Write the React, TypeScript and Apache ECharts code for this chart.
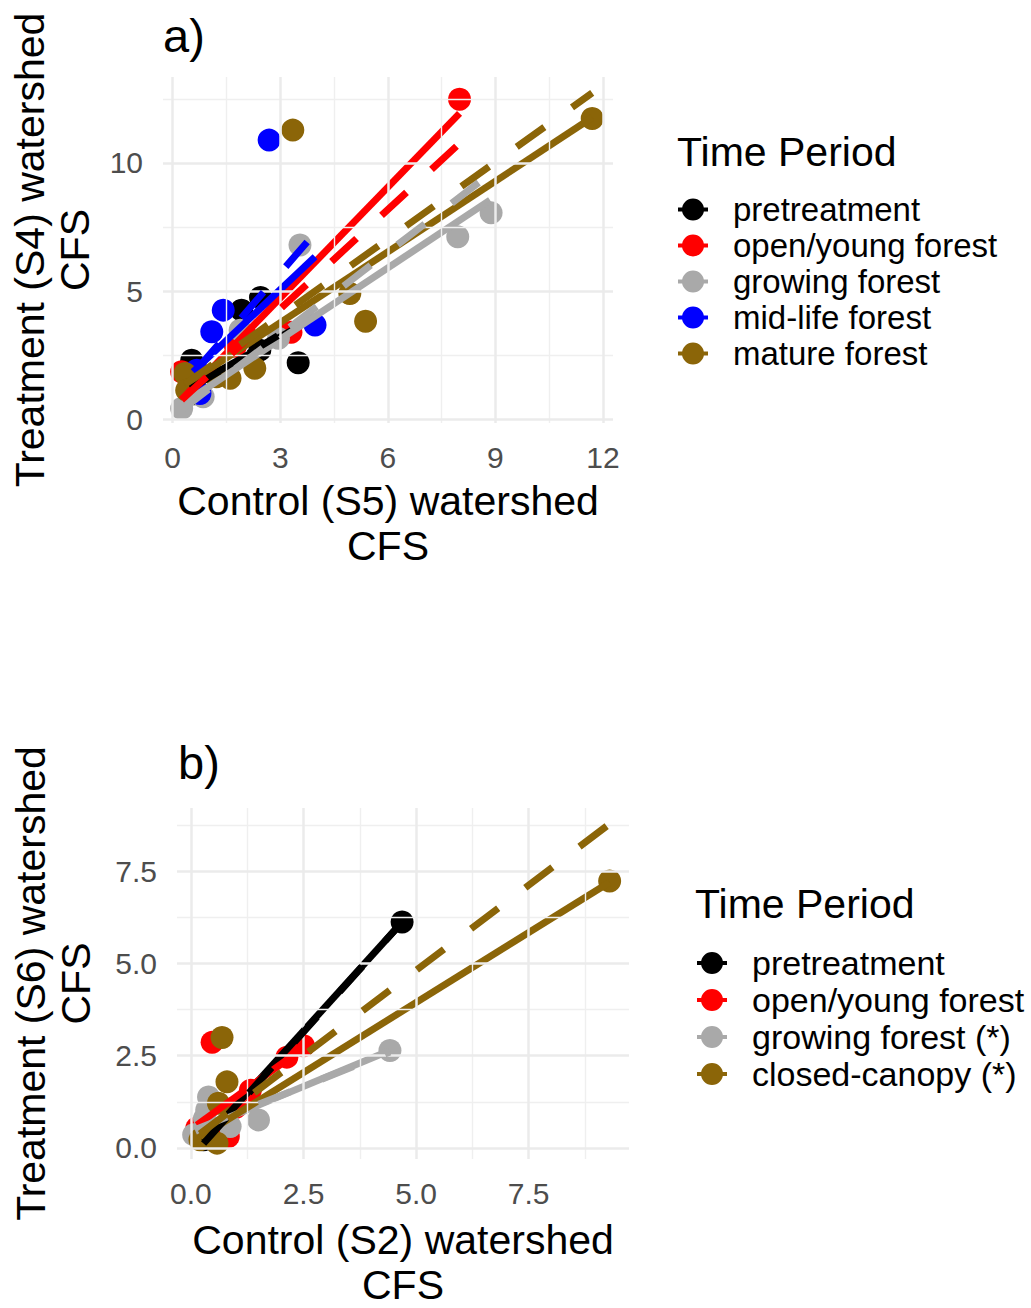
import React, { useEffect, useRef } from "react";
import * as echarts from "echarts";

const FONT = "'Liberation Sans', Arial, sans-serif";

// ---------- Panel a ----------
const groupsA = ["pretreatment", "open/young forest", "growing forest", "mid-life forest", "mature forest"];
const colorsA = ["#000000", "#FF0000", "#A9A9A9", "#0000FF", "#8B6508"];

const ptsA_pre = [[0.53, 2.31], [1.92, 4.26], [2.45, 4.75], [2.43, 2.7], [3.5, 2.21], [0.6, 1.0]];
const ptsA_open = [[0.25, 1.86], [1.75, 2.85], [3.3, 3.4], [8.0, 12.48], [0.6, 1.2]];
const ptsA_grow = [[0.25, 0.43], [0.85, 0.88], [1.88, 3.48], [2.95, 3.16], [3.55, 6.8], [7.95, 7.12], [8.88, 8.06]];
const ptsA_mid = [[0.76, 1.01], [0.67, 1.92], [1.09, 3.42], [1.41, 4.26], [2.69, 10.89], [3.97, 3.68]];
const ptsA_mat = [[0.34, 1.79], [0.39, 1.14], [1.22, 1.66], [1.6, 1.6], [2.29, 1.99], [3.35, 11.28], [4.94, 4.91], [5.38, 3.83], [11.7, 11.73]];

const solidA_pre = [[0.5, 1.27], [3.5, 3.61]];
const solidA_open = [[0.25, 0.78], [8.0, 11.93]];
const solidA_grow = [[0.3, 0.62], [8.85, 8.55]];
const solidA_mid = [[0.57, 1.86], [3.97, 6.34]];
const solidA_mat = [[0.34, 1.33], [11.7, 11.77]];

const dashA_pre = [[0.5, 1.2], [3.5, 3.75]];
const dashA_open = [[0.25, 0.76], [8.0, 10.76]];
const dashA_grow = [[0.25, 0.37], [8.85, 9.57]];
const dashA_mid = [[0.67, 1.95], [3.75, 6.92]];
const dashA_mat = [[0.34, 1.37], [11.7, 12.73]];

const xTicksA = [0, 3, 6, 9, 12];
const xMinorA = [1.5, 4.5, 7.5, 10.5];
const yTicksA = [0, 5, 10];
const yMinorA = [2.5, 7.5, 12.5];

// ---------- Panel b ----------
const groupsB = ["pretreatment", "open/young forest", "growing forest (*)", "closed-canopy (*)"];
const colorsB = ["#000000", "#FF0000", "#A9A9A9", "#8B6508"];

const ptsB_pre = [[0.28, 0.22], [4.69, 6.12]];
const ptsB_open = [[0.13, 0.54], [0.83, 0.31], [1.0, 1.1], [1.32, 1.56], [2.13, 2.46], [2.5, 2.77], [0.47, 2.86]];
const ptsB_grow = [[0.06, 0.36], [0.3, 0.8], [0.35, 1.03], [0.39, 1.38], [0.87, 0.58], [1.5, 0.76], [4.42, 2.64]];
const ptsB_clo = [[0.2, 0.22], [0.4, 0.3], [0.58, 0.13], [0.61, 1.21], [0.8, 1.79], [0.69, 2.99], [9.3, 7.23]];

const solidB_pre = [[0.28, 0.18], [4.69, 6.12]];
const solidB_open = [[0.13, 0.62], [2.6, 2.8]];
const solidB_grow = [[0.1, 0.45], [4.42, 2.64]];
const solidB_clo = [[0.2, 0.3], [9.3, 7.2]];

const dashB_pre = [[0.28, 0.12], [4.69, 6.12]];
const dashB_grow = [[0.1, 0.5], [4.42, 2.6]];
const dashB_clo = [[0.2, 0.38], [9.3, 8.78]];

const xTicksB = [0, 2.5, 5, 7.5];
const xMinorB = [1.25, 3.75, 6.25, 8.75];
const yTicksB = [0, 2.5, 5, 7.5];
const yMinorB = [1.25, 3.75, 6.25, 8.75];

const KEY = "path://M0,9H30V13H0Z M4,11A11,11,0,1,1,26,11A11,11,0,1,1,4,11Z";

function scatter(name: string, color: string, data: number[][], idx: number) {
  return {
    type: "scatter", name, xAxisIndex: idx, yAxisIndex: idx, data,
    symbol: "circle", symbolSize: 23, itemStyle: { color, opacity: 1 }, z: 3, silent: true,
  };
}
function line(name: string, color: string, data: number[][], idx: number, dashed: boolean) {
  return {
    type: "line", name, xAxisIndex: idx, yAxisIndex: idx, data,
    showSymbol: false, symbol: "none", silent: true, z: dashed ? 5 : 4,
    lineStyle: { color, width: 7, type: dashed ? [34, 34] : "solid", cap: "butt" },
  };
}
function gridLines(idx: number, xt: number[], xm: number[], yt: number[], ym: number[]) {
  const major = { width: 2.5, color: "#EBEBEB" };
  const minor = { width: 1.4, color: "#EFEFEF" };
  return {
    type: "scatter", xAxisIndex: idx, yAxisIndex: idx, data: [], z: 1, silent: true,
    markLine: {
      silent: true, symbol: ["none", "none"], label: { show: false }, animation: false,
      lineStyle: { type: "solid" },
      data: [
        ...xm.map((v) => ({ xAxis: v, lineStyle: minor })),
        ...ym.map((v) => ({ yAxis: v, lineStyle: minor })),
        ...xt.map((v) => ({ xAxis: v, lineStyle: major })),
        ...yt.map((v) => ({ yAxis: v, lineStyle: major })),
      ],
    },
  };
}
function axis(idx: number, min: number, max: number, ticks: number[], fmt: (v: number) => string, name: string, gap: number, isY: boolean) {
  return {
    type: "value", gridIndex: idx, min, max,
    axisLine: { show: false }, axisTick: { show: false }, splitLine: { show: false },
    axisLabel: {
      customValues: ticks, formatter: (v: number) => fmt(v), fontSize: 30, color: "#4D4D4D",
      fontFamily: FONT, margin: isY ? 20 : 19, lineHeight: 30,
    },
    name, nameLocation: "middle", nameGap: gap, nameRotate: isY ? 90 : 0,
    nameTextStyle: { fontSize: 41, color: "#000", fontFamily: FONT, lineHeight: 45 },
  };
}

export default function App() {
  const ref = useRef<HTMLDivElement>(null);
  useEffect(() => {
    if (!ref.current) return;
    const chart = echarts.init(ref.current, undefined, { renderer: "svg" });
    const fInt = (v: number) => String(Math.round(v));
    const f1 = (v: number) => v.toFixed(1);
    const legendTextA = { fontSize: 33, color: "#000", fontFamily: FONT, padding: [0, 0, 0, 20] };
    const legendTextB = { fontSize: 34, color: "#000", fontFamily: FONT, padding: [0, 0, 0, 20] };
    chart.setOption({
      animation: false,
      grid: [
        { left: 163, top: 77, width: 450, height: 346 },
        { left: 177, top: 808, width: 452, height: 355 },
      ],
      xAxis: [
        axis(0, -0.27, 12.28, xTicksA, fInt, "Control (S5) watershed\nCFS", 55, false),
        axis(1, -0.31, 9.73, xTicksB, f1, "Control (S2) watershed\nCFS", 58, false),
      ],
      yAxis: [
        axis(0, -0.14, 13.35, yTicksA, fInt, "Treatment (S4) watershed\nCFS", 66, true),
        axis(1, -0.3, 9.21, yTicksB, f1, "Treatment (S6) watershed\nCFS", 79, true),
      ],
      legend: [
        {
          left: 678, top: 193, padding: 0, orient: "vertical", itemWidth: 30, itemHeight: 22, itemGap: 3,
          selectedMode: false, textStyle: legendTextA,
          data: groupsA.map((n, i) => ({ name: n, icon: KEY, itemStyle: { color: colorsA[i] } })),
        },
        {
          left: 697, top: 946, padding: 0, orient: "vertical", itemWidth: 30, itemHeight: 22, itemGap: 3,
          selectedMode: false, textStyle: legendTextB,
          data: groupsB.map((n, i) => ({ name: n, icon: KEY, itemStyle: { color: colorsB[i] } })),
        },
      ],
      graphic: [
        { type: "text", x: 163, y: 35, style: { text: "a)", font: `47px ${FONT}`, fill: "#000", verticalAlign: "middle" } },
        { type: "text", x: 178, y: 762, style: { text: "b)", font: `47px ${FONT}`, fill: "#000", verticalAlign: "middle" } },
        { type: "text", x: 677, y: 152, style: { text: "Time Period", font: `41px ${FONT}`, fill: "#000", verticalAlign: "middle" } },
        { type: "text", x: 695, y: 904, style: { text: "Time Period", font: `41px ${FONT}`, fill: "#000", verticalAlign: "middle" } },
      ],
      series: [
        gridLines(0, xTicksA, xMinorA, yTicksA, yMinorA),
        gridLines(1, xTicksB, xMinorB, yTicksB, yMinorB),
        scatter(groupsA[0], colorsA[0], ptsA_pre, 0),
        scatter(groupsA[1], colorsA[1], ptsA_open, 0),
        scatter(groupsA[2], colorsA[2], ptsA_grow, 0),
        scatter(groupsA[3], colorsA[3], ptsA_mid, 0),
        scatter(groupsA[4], colorsA[4], ptsA_mat, 0),
        line(groupsA[0], colorsA[0], solidA_pre, 0, false),
        line(groupsA[1], colorsA[1], solidA_open, 0, false),
        line(groupsA[2], colorsA[2], solidA_grow, 0, false),
        line(groupsA[3], colorsA[3], solidA_mid, 0, false),
        line(groupsA[4], colorsA[4], solidA_mat, 0, false),
        line(groupsA[0], colorsA[0], dashA_pre, 0, true),
        line(groupsA[1], colorsA[1], dashA_open, 0, true),
        line(groupsA[2], colorsA[2], dashA_grow, 0, true),
        line(groupsA[3], colorsA[3], dashA_mid, 0, true),
        line(groupsA[4], colorsA[4], dashA_mat, 0, true),
        scatter(groupsB[0], colorsB[0], ptsB_pre, 1),
        scatter(groupsB[1], colorsB[1], ptsB_open, 1),
        scatter(groupsB[2], colorsB[2], ptsB_grow, 1),
        scatter(groupsB[3], colorsB[3], ptsB_clo, 1),
        line(groupsB[0], colorsB[0], solidB_pre, 1, false),
        line(groupsB[1], colorsB[1], solidB_open, 1, false),
        line(groupsB[2], colorsB[2], solidB_grow, 1, false),
        line(groupsB[3], colorsB[3], solidB_clo, 1, false),
        line(groupsB[0], colorsB[0], dashB_pre, 1, true),
        line(groupsB[2], colorsB[2], dashB_grow, 1, true),
        line(groupsB[3], colorsB[3], dashB_clo, 1, true),
      ],
    });
    return () => chart.dispose();
  }, []);
  return (
    <div
      ref={ref}
      style={{ position: "absolute", left: 0, top: 0, width: 1031, height: 1308, background: "#fff" }}
    />
  );
}
